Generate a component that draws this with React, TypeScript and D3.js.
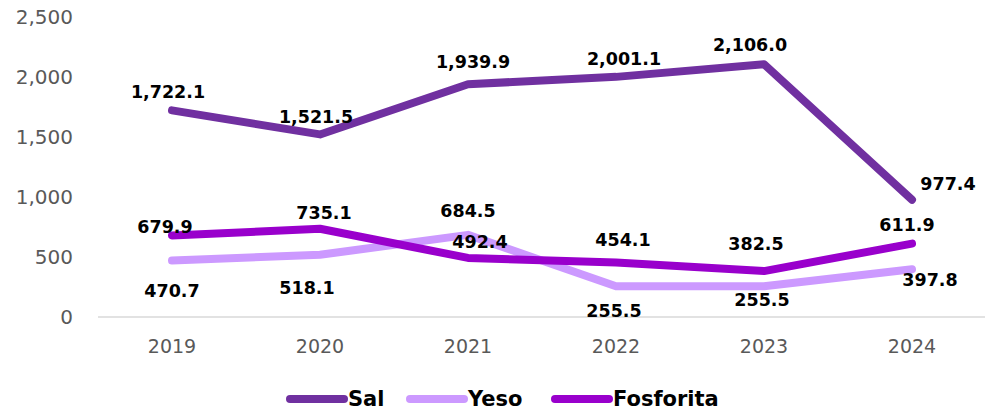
import React from "react";
import * as d3 from "d3";

const years = ["2019", "2020", "2021", "2022", "2023", "2024"];
const sal = [1722.1, 1521.5, 1939.9, 2001.1, 2106.0, 977.4];
const yeso = [470.7, 518.1, 684.5, 255.5, 255.5, 397.8];
const fosforita = [679.9, 735.1, 492.4, 454.1, 382.5, 611.9];
const yTicks = [0, 500, 1000, 1500, 2000, 2500];

// label offsets (dx, dy) relative to point
const salOff = [[-4, -18], [-4, -17], [5, -22], [8, -18], [-14, -19], [36, -16]];
const yesoOff = [[0, 30], [-13, 33], [0, -24], [-2, 25], [-2, 14], [18, 11]];
const fosOff = [[-7, -8], [4, -16], [12, -16], [7, -23], [-8, -27], [-5, -19]];

const W = 985, H = 411;
const FONT = "'DejaVu Sans', sans-serif";

export default function App() {
  const x = d3.scaleBand<string>().domain(years).range([98, 986]);
  const y = d3.scaleLinear().domain([0, 2500]).range([317, 17]);
  const cx = (d: string) => (x(d) as number) + x.bandwidth() / 2;
  const line = d3.line<number>().x((_, i) => cx(years[i])).y((v) => y(v));

  const series = [
    { name: "Sal", data: sal, color: "#7030A0", off: salOff },
    { name: "Yeso", data: yeso, color: "#CC99FF", off: yesoOff },
    { name: "Fosforita", data: fosforita, color: "#9900CC", off: fosOff },
  ];
  const legendX = [290, 410, 555];
  const fmt = d3.format(",.1f");

  return (
    <svg width={W} height={H} style={{ position: "absolute", left: 0, top: 0 }}>
      <rect width={W} height={H} fill="#fff" />
      {yTicks.map((t) => (
        <text key={t} x={73} y={y(t)} textAnchor="end" dominantBaseline="central"
          fontFamily={FONT} fontSize={20} fill="#595959">{d3.format(",")(t)}</text>
      ))}
      <line x1={98} x2={985} y1={y(0)} y2={y(0)} stroke="#d9d9d9" strokeWidth={1.5} />
      {years.map((yr) => (
        <text key={yr} x={cx(yr)} y={346} textAnchor="middle" dominantBaseline="central"
          fontFamily={FONT} fontSize={19} fill="#595959">{yr}</text>
      ))}
      {series.map((s) => (
        <path key={s.name} d={line(s.data) || ""} fill="none" stroke={s.color}
          strokeWidth={8} strokeLinecap="round" strokeLinejoin="round" />
      ))}
      {series.map((s) =>
        s.data.map((v, i) => (
          <text key={s.name + i} x={cx(years[i]) + s.off[i][0]} y={y(v) + s.off[i][1]}
            textAnchor="middle" dominantBaseline="central" fontFamily={FONT}
            fontWeight="bold" fontSize={17.5} fill="#000">{fmt(v)}</text>
        ))
      )}
      {series.map((s, i) => (
        <g key={s.name}>
          <line x1={legendX[i]} x2={legendX[i] + 54} y1={399} y2={399} stroke={s.color}
            strokeWidth={8} strokeLinecap="round" />
          <text x={legendX[i] + 58} y={399} dominantBaseline="central" fontFamily={FONT}
            fontWeight="bold" fontSize={21} fill="#000">{s.name}</text>
        </g>
      ))}
    </svg>
  );
}
